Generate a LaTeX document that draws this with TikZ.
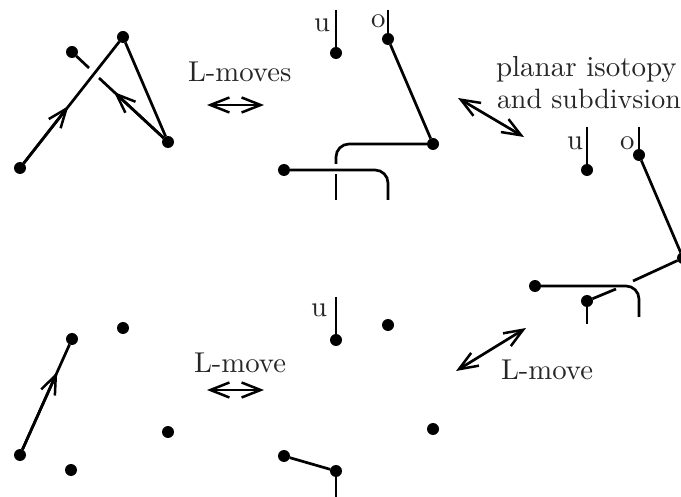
\documentclass[tikz,border=0pt]{standalone}
\usetikzlibrary{arrows.meta}
\tikzset{
  dotn/.style={circle,fill=black,inner sep=0pt,outer sep=0pt,minimum size=12pt},
  ln/.style={line width=2.7pt,black},
  tipped/.style={ln,-{Straight Barb[length=19pt,width=15pt,line width=2.5pt]}},
  both/.style={ln,{Straight Barb[length=19pt,width=15pt,line width=2.5pt]}-{Straight Barb[length=19pt,width=15pt,line width=2.5pt]}},
  lab/.style={scale=2.87,anchor=base west,inner sep=0pt,outer sep=0pt,text=black!85},
  rc/.style={ln,rounded corners=13pt}
}
\begin{document}
\begin{tikzpicture}[x=1pt,y=-1pt]
\useasboundingbox (0,0) rectangle (681,497);
% top left
\node[dotn] (a1) at (20,168) {};
\node[dotn] (a2) at (72,52) {};
\node[dotn] (a3) at (123,37) {};
\node[dotn] (a4) at (168,142) {};
\coordinate (am1) at (68.5,106);
\coordinate (am2) at (114,92);
\coordinate (ag1) at (99,78);
\coordinate (ag2) at (89,68);
\draw[ln] (a1) -- (a3);
\draw[tipped] (a1) -- (am1);
\draw[ln] (a3) -- (a4);
\draw[ln] (a4) -- (ag1);
\draw[tipped] (a4) -- (am2);
\draw[ln] (ag2) -- (a2);
\node[lab] (t1) at (188,82) {L-moves};
\coordinate (b1l) at (207,105);
\coordinate (b1r) at (264,105);
\draw[both] (b1l) -- (b1r);
% top middle
\node[dotn] (b1) at (336,53) {};
\node[dotn] (b2) at (388,39) {};
\node[dotn] (b3) at (433,144) {};
\node[dotn] (b4) at (284,170) {};
\coordinate (bu) at (336,10);
\coordinate (bo) at (388,10);
\coordinate (bc1) at (336,144);
\coordinate (bg1) at (336,164);
\coordinate (bg2) at (336,174);
\coordinate (be1) at (336,200);
\coordinate (bc2) at (388,170);
\coordinate (be2) at (388,200);
\draw[ln] (bu) -- (b1);
\draw[ln] (bo) -- (b2);
\draw[ln] (b2) -- (b3);
\draw[rc] (b3) -- (bc1) -- (bg1);
\draw[ln] (bg2) -- (be1);
\draw[rc] (b4) -- (bc2) -- (be2);
\node[lab] (t2) at (314,32) {u};
\node[lab] (t3) at (371,28) {o};
\coordinate (d1a) at (458,98);
\coordinate (d1b) at (524,137);
\draw[both] (d1a) -- (d1b);
\node[lab,scale=1.01] (t4) at (496,77) {planar isotopy};
\node[lab,scale=0.975] (t5) at (497,109) {and subdivsion};
% right
\node[dotn] (c1) at (587,170) {};
\node[dotn] (c2) at (639,155) {};
\node[dotn] (c3) at (683,258) {};
\node[dotn] (c4) at (535,286) {};
\node[dotn] (c5) at (587,301) {};
\coordinate (cu) at (587,127);
\coordinate (co) at (639,127);
\coordinate (cg1) at (633,281);
\coordinate (cg2) at (616,289);
\coordinate (cc) at (639,286);
\coordinate (ce1) at (639,317);
\coordinate (ce2) at (587,324);
\draw[ln] (cu) -- (c1);
\draw[ln] (co) -- (c2);
\draw[ln] (c2) -- (c3);
\draw[ln] (c3) -- (cg1);
\draw[ln] (cg2) -- (c5);
\draw[ln] (c5) -- (ce2);
\draw[rc] (c4) -- (cc) -- (ce1);
\node[lab] (t6) at (567,150) {u};
\node[lab] (t7) at (620,150) {o};
\coordinate (d2a) at (456,371);
\coordinate (d2b) at (526,328);
\draw[both] (d2a) -- (d2b);
\node[lab] (t8) at (501,380) {L-move};
% bottom left
\node[dotn] (e1) at (20,455) {};
\node[dotn] (e2) at (72,339) {};
\node[dotn] (e3) at (123,328) {};
\node[dotn] (e4) at (168,432) {};
\node[dotn] (e5) at (71,470) {};
\coordinate (em) at (57.2,372);
\draw[ln] (e1) -- (e2);
\draw[tipped] (e1) -- (em);
\node[lab] (t9) at (194,373) {L-move};
\coordinate (b2l) at (207,390);
\coordinate (b2r) at (264,390);
\draw[both] (b2l) -- (b2r);
% bottom middle
\node[dotn] (f1) at (336,340) {};
\node[dotn] (f2) at (388,325) {};
\node[dotn] (f3) at (433,429) {};
\node[dotn] (f4) at (284,456) {};
\node[dotn] (f5) at (336,471) {};
\coordinate (fu) at (336,297);
\coordinate (fe) at (336,497);
\draw[ln] (fu) -- (f1);
\draw[ln] (f4) -- (f5);
\draw[ln] (f5) -- (fe);
\node[lab] (t10) at (311,317) {u};
\end{tikzpicture}
\end{document}
